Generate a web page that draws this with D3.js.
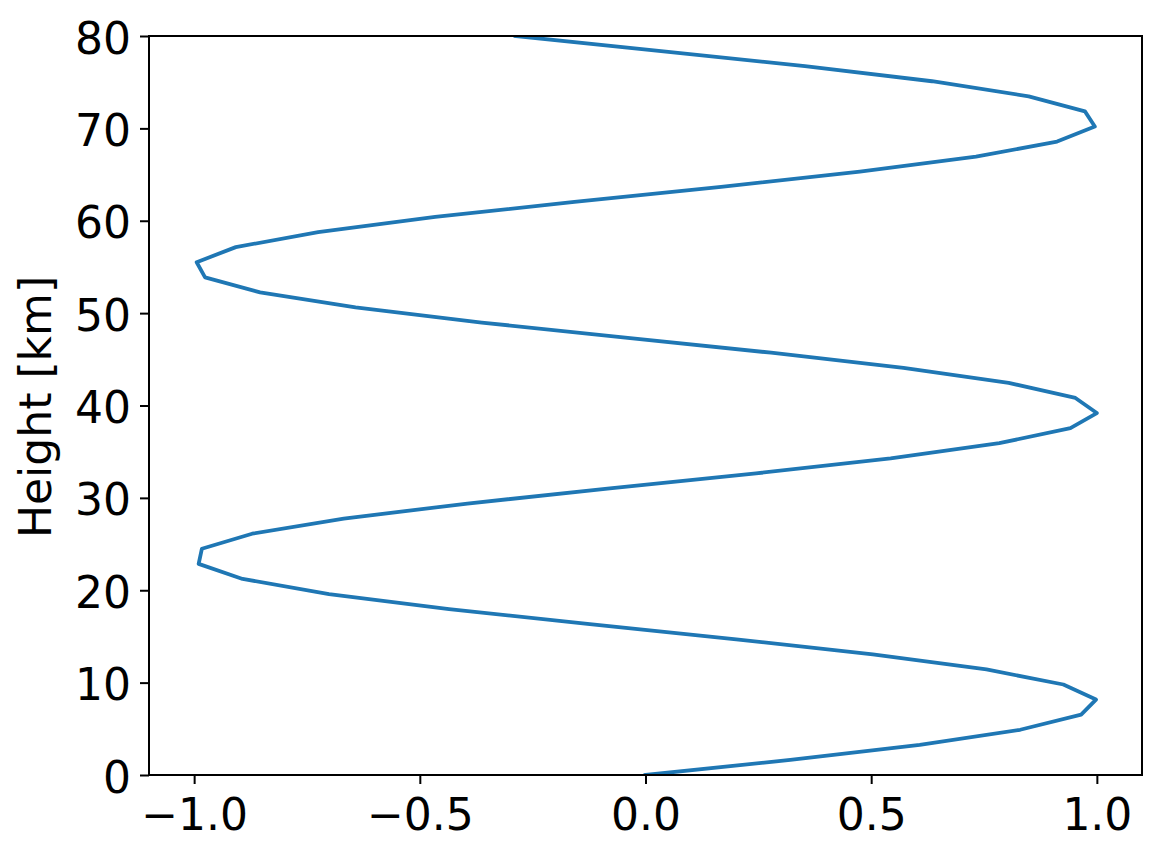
<!DOCTYPE html>
<html><head><meta charset="utf-8">
<script src="https://cdn.jsdelivr.net/npm/d3@7"></script>
<style>body{margin:0;background:#fff;} text{font-family:"DejaVu Sans",sans-serif;}</style>
</head><body>
<svg id="c" width="1162" height="858"></svg>
<script>
const heights = [0,1.633,3.265,4.898,6.531,8.163,9.796,11.429,13.061,14.694,16.327,17.959,19.592,21.224,22.857,24.490,26.122,27.755,29.388,31.020,32.653,34.286,35.918,37.551,39.184,40.816,42.449,44.082,45.714,47.347,48.980,50.612,52.245,53.878,55.510,57.143,58.776,60.408,62.041,63.673,65.306,66.939,68.571,70.204,71.837,73.469,75.102,76.735,78.367,80];
const values = [0,0.3208,0.6076,0.8301,0.9652,0.9981,0.9257,0.7554,0.5036,0.2011,-0.1234,-0.4352,-0.7012,-0.8926,-0.9900,-0.9829,-0.8715,-0.6685,-0.3946,-0.0790,0.2449,0.5430,0.7838,0.9414,0.9999,0.9525,0.8046,0.5716,0.2782,-0.0446,-0.3627,-0.6424,-0.8539,-0.9758,-0.9944,-0.9077,-0.7252,-0.4659,-0.1575,0.1675,0.4750,0.7322,0.9119,0.9955,0.9736,0.8490,0.6348,0.3532,0.0345,-0.2879];
const xTicks = [-1.0,-0.5,0.0,0.5,1.0];
const yTicks = [0,10,20,30,40,50,60,70,80];
const yLabel = "Height [km]";

const FS = 44;
const svg = d3.select("#c");
const L=149,R=1142,T=36,B=775;
const x = d3.scaleLinear().domain([-1.1,1.1]).range([L,R]);
const y = d3.scaleLinear().domain([0,80]).range([B,T]);
const fmt = d => (d<0?"\u2212":"")+Math.abs(d).toFixed(1);

svg.append("clipPath").attr("id","cp").append("rect").attr("x",L).attr("y",T).attr("width",R-L).attr("height",B-T);
const pts = heights.map((h,i)=>[values[i],h]);
svg.append("path").datum(pts).attr("clip-path","url(#cp)")
  .attr("d", d3.line().x(d=>x(d[0])).y(d=>y(d[1])))
  .attr("fill","none").attr("stroke","#1f77b4").attr("stroke-width",3.8).attr("stroke-linejoin","round").attr("stroke-linecap","square");

const xa = svg.append("g").attr("transform",`translate(0,${B})`)
  .call(d3.axisBottom(x).tickValues(xTicks).tickFormat(fmt).tickSize(9));
const ya = svg.append("g").attr("transform",`translate(${L},0)`)
  .call(d3.axisLeft(y).tickValues(yTicks).tickFormat(d3.format("d")).tickSize(9));
[xa,ya].forEach(a=>{
  a.select(".domain").remove();
  a.selectAll("line").attr("stroke","#000").attr("stroke-width",2);
  a.selectAll("text").attr("font-size",FS).attr("fill","#000").attr("font-family","DejaVu Sans");
});
xa.selectAll("text").attr("y",55).attr("dy",0);
ya.selectAll("text").attr("x",-18).attr("dy",0).attr("y",17);
svg.append("rect").attr("x",L).attr("y",T).attr("width",R-L).attr("height",B-T)
  .attr("fill","none").attr("stroke","#000").attr("stroke-width",2);
svg.append("text").attr("transform",`translate(51,407) rotate(-90)`)
  .attr("text-anchor","middle").attr("font-size",FS).attr("fill","#000").text(yLabel);
</script>
</body></html>
